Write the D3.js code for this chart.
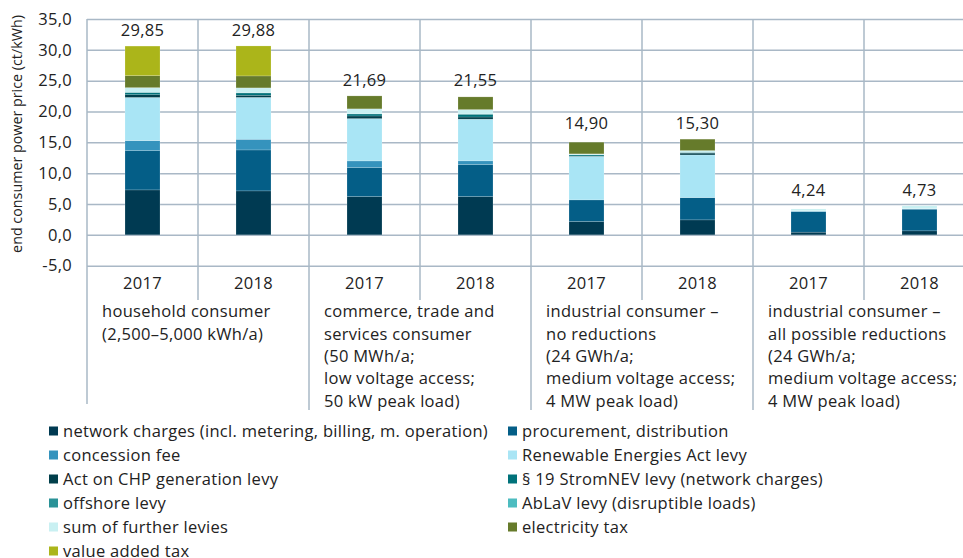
<!DOCTYPE html>
<html><head><meta charset="utf-8">
<script src="https://cdn.jsdelivr.net/npm/d3@7"></script>
<style>
html,body{margin:0;padding:0;background:#fff;}
svg{display:block;font-family:"Open Sans",sans-serif;}
</style></head>
<body>
<svg id="chart" width="963" height="558"></svg>
<script>
// ---------- data ----------
const groups = [
  ["household consumer", "(2,500–5,000 kWh/a)"],
  ["commerce, trade and", "services consumer", "(50 MWh/a;", "low voltage access;", "50 kW peak load)"],
  ["industrial consumer –", "no reductions", "(24 GWh/a;", "medium voltage access;", "4 MW peak load)"],
  ["industrial consumer –", "all possible reductions", "(24 GWh/a;", "medium voltage access;", "4 MW peak load)"]
];
const years = ["2017", "2018"];
const barGroup = [0, 0, 1, 1, 2, 2, 3, 3];
const barYear  = [0, 1, 0, 1, 0, 1, 0, 1];
const totalLabels = ["29,85", "29,88", "21,69", "21,55", "14,90", "15,30", "4,24", "4,73"];

const seriesNames = [
  "network charges (incl. metering, billing, m. operation)",
  "procurement, distribution",
  "concession fee",
  "Renewable Energies Act levy",
  "Act on CHP generation levy",
  "§ 19 StromNEV levy (network charges)",
  "offshore levy",
  "AbLaV levy (disruptible loads)",
  "sum of further levies",
  "electricity tax",
  "value added tax"
];
const network     = [7.29, 7.13, 6.21, 6.21, 2.16, 2.43, 0.44, 0.65];
const procurement = [6.37, 6.64, 4.70, 5.19, 3.51, 3.61, 3.36, 3.52];
const concession  = [1.62, 1.73, 1.08, 0.60, 0.00, 0.00, 0.00, 0.00];
const eeg         = [7.00, 6.79, 6.86, 6.76, 7.05, 6.92, 0.10, 0.10];
const chp         = [0.44, 0.35, 0.43, 0.35, 0.05, 0.30, 0.00, 0.00];
const stromnev    = [0.39, 0.37, 0.33, 0.45, 0.20, 0.10, 0.00, 0.00];
const offshore    = [0.00, 0.04, 0.00, 0.04, 0.00, 0.04, 0.00, 0.00];
const ablav       = [0.01, 0.01, 0.01, 0.01, 0.01, 0.01, 0.00, 0.00];
const further     = [0.75, 0.77, 0.81, 0.70, 0.15, 0.26, 0.30, 0.45];
const elecTax     = [1.94, 1.94, 2.10, 2.06, 1.90, 1.85, 0.00, 0.00];
const vat         = [4.80, 4.86, 0.00, 0.00, 0.00, 0.00, 0.00, 0.00];
const seriesValues = [network, procurement, concession, eeg, chp, stromnev, offshore, ablav, further, elecTax, vat];
const colors = ["#003a52", "#045e87", "#3593bd", "#a9e5f5", "#013f4b", "#00727a", "#2a9297", "#4dbcc0", "#c9f0f2", "#667b2b", "#abb51a"];
const yTicks = [-5, 0, 5, 10, 15, 20, 25, 30, 35];
const yTitle = "end consumer power price (ct/kWh)";

(function () {
// ---------- layout ----------
const svg = d3.select("#chart");
const left = 87, step = 111, plotTop = 19, plotBottom = 265.7, barW = 35;
const fs = "16.5px", ls = "0.3px";
const barIdx = d3.range(barGroup.length);
const padIn = 1 - barW / step;
const x = d3.scaleBand().domain(barIdx).range([left, left + step * barIdx.length])
  .paddingInner(padIn).paddingOuter(padIn / 2);
const slot = d3.scaleBand().domain(barIdx).range([left, left + step * barIdx.length]).padding(0);
const y = d3.scaleLinear().domain([-5, 35]).range([plotBottom, plotTop]);
const gridColor = "#a9b8c6";
const textColor = "#222";

// horizontal gridlines + tick labels via axis
const yAxis = d3.axisLeft(y).tickValues(yTicks)
  .tickSize(-(step * barIdx.length))
  .tickFormat(d => d3.format(".1f")(d).replace(".", ",").replace("\u2212", "-"));
const gy = svg.append("g").attr("transform", `translate(${left},0)`).call(yAxis);
gy.select(".domain").remove();
gy.selectAll(".tick line").attr("stroke", gridColor).attr("stroke-width", 1.5);
gy.selectAll(".tick text").attr("x", -15).attr("fill", textColor)
  .style("font-size", fs).style("letter-spacing", ls).style("font-family", "'Open Sans',sans-serif");

// vertical separators
const bounds = d3.range(barIdx.length + 1);
svg.append("g").selectAll("line").data(bounds).join("line")
  .attr("x1", k => left + k * step).attr("x2", k => left + k * step)
  .attr("y1", plotTop)
  .attr("y2", k => k % 2 === 1 ? 300 : (k === 0 ? 404 : 410))
  .attr("stroke", gridColor).attr("stroke-width", 1.5);

// stacked bars
const stackData = barIdx.map(i => {
  const o = {i};
  seriesValues.forEach((s, j) => o[j] = s[i]);
  return o;
});
const stack = d3.stack().keys(d3.range(seriesValues.length));
const layers = stack(stackData);
svg.append("g").selectAll("g").data(layers).join("g")
  .attr("fill", (d, j) => colors[j])
  .selectAll("rect").data(d => d.filter(p => p[1] - p[0] > 0)).join("rect")
  .attr("x", p => x(p.data.i))
  .attr("width", x.bandwidth())
  .attr("y", p => y(p[1]))
  .attr("height", p => y(p[0]) - y(p[1]))
  .attr("stroke", "#ffffff").attr("stroke-opacity", 0.35).attr("stroke-width", 0.5);

// total labels (same height within a group)
const totals = barIdx.map(i => d3.sum(seriesValues, s => s[i]));
const groupMax = groups.map((g, gi) => d3.max(barIdx.filter(i => barGroup[i] === gi), i => totals[i]));
svg.append("g").selectAll("text").data(barIdx).join("text")
  .attr("x", i => x(i) + x.bandwidth() / 2)
  .attr("y", i => y(groupMax[barGroup[i]]) - 10)
  .attr("text-anchor", "middle")
  .attr("fill", textColor).style("font-size", fs).style("letter-spacing", ls)
  .text(i => totalLabels[i]);

// year labels
svg.append("g").selectAll("text").data(barIdx).join("text")
  .attr("x", i => slot(i) + step / 2)
  .attr("y", 283.5).attr("dy", "0.35em")
  .attr("text-anchor", "middle")
  .attr("fill", textColor).style("font-size", fs).style("letter-spacing", ls)
  .text(i => years[barYear[i]]);

// group labels
const gl = svg.append("g").selectAll("text").data(groups).join("text")
  .attr("fill", textColor).style("font-size", fs).style("letter-spacing", ls);
gl.each(function(lines, gi) {
  const firstBar = barIdx.find(i => barGroup[i] === gi);
  d3.select(this).selectAll("tspan").data(lines).join("tspan")
    .attr("x", slot(firstBar) + 15)
    .attr("y", (d, li) => 311.5 + li * 22.4)
    .attr("dy", "0.35em")
    .text(d => d);
});

// y title
svg.append("text")
  .attr("transform", `translate(17,134) rotate(-90)`)
  .attr("text-anchor", "middle").attr("dy", "0.35em")
  .attr("fill", textColor).style("font-size", "14.3px")
  .text(yTitle);

// legend
const leg = svg.append("g").selectAll("g").data(seriesNames).join("g")
  .attr("transform", (d, j) => `translate(${j % 2 === 0 ? 49 : 508},${431 + Math.floor(j / 2) * 24})`);
leg.append("rect").attr("x", 0).attr("y", -4.5).attr("width", 9).attr("height", 9)
  .attr("fill", (d, j) => colors[j]);
leg.append("text").attr("x", 14).attr("dy", "0.35em")
  .attr("fill", textColor).style("font-size", fs).style("letter-spacing", ls)
  .text(d => d);
})();
</script>
</body></html>
